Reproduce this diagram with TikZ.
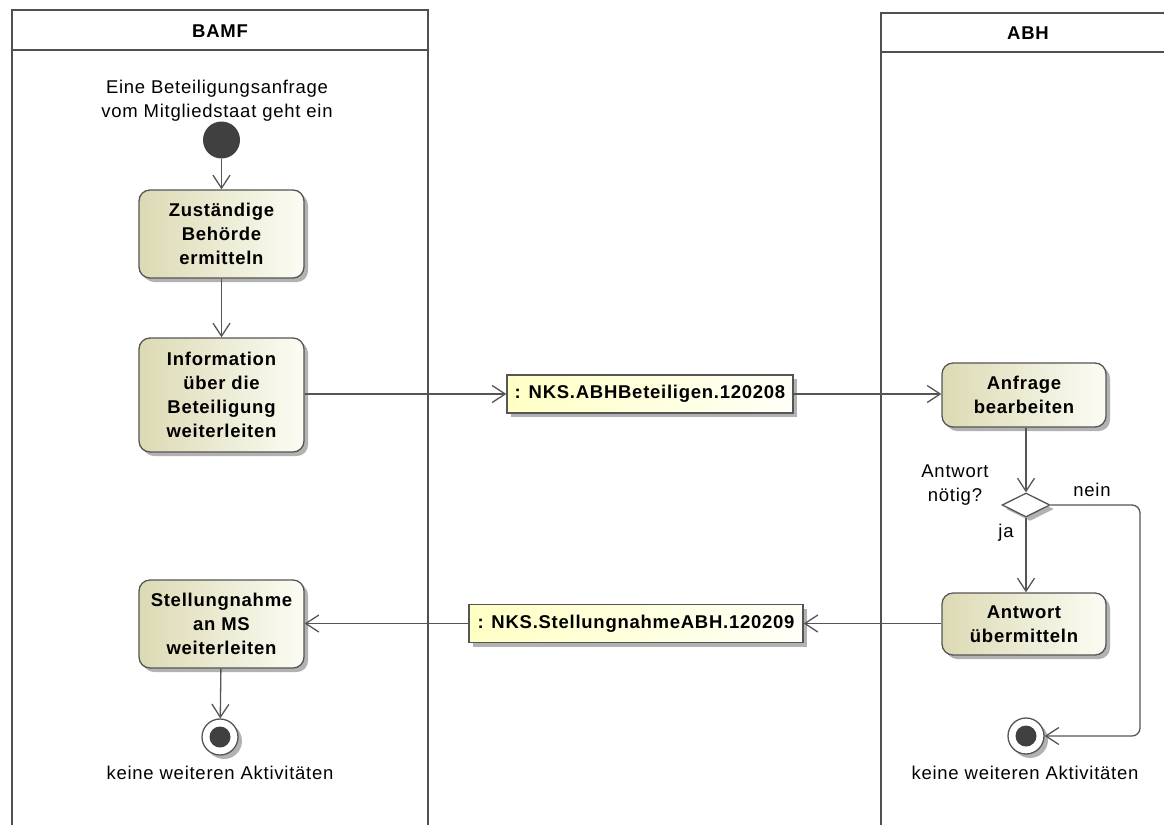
\documentclass[tikz,border=0pt]{standalone}
\usepackage{fontspec}
\setmainfont[LetterSpace=4]{Liberation Sans}
\usetikzlibrary{arrows.meta,shapes.geometric,shadows}
\definecolor{lanec}{RGB}{80,80,80}
\definecolor{edgec}{RGB}{85,85,85}
\definecolor{actL}{RGB}{220,218,180}
\definecolor{actR}{RGB}{252,252,244}
\definecolor{objL}{RGB}{255,255,196}
\definecolor{objR}{RGB}{255,255,248}
\definecolor{dotc}{RGB}{64,64,64}
\begin{document}
\begin{tikzpicture}[x=1pt,y=-1pt,
  lane/.style={draw=lanec,line width=2pt},
  shad/.style={drop shadow={shadow xshift=4pt,shadow yshift=-4pt,fill=black!30,opacity=1}},
  act/.style={draw=edgec,line width=1.3pt,rounded corners=11pt,left color=actL,right color=actR,
    font=\fontsize{18.5}{24}\selectfont\bfseries,align=center,inner sep=0pt,shad},
  obj/.style={draw=edgec,line width=1.3pt,left color=objL,right color=objR,
    font=\fontsize{18.5}{24}\selectfont\bfseries,inner sep=0pt,minimum height=38pt,shad},
  lbl/.style={font=\fontsize{18.5}{24.5}\selectfont,align=center,inner sep=0pt},
  title/.style={font=\fontsize{18.5}{24}\selectfont\bfseries,inner sep=0pt},
  conn/.style={draw=edgec,line width=1.3pt,-{Straight Barb[length=13pt,width=17pt,line width=1.3pt]}},
  startnode/.style={circle,fill=dotc,minimum size=37pt,inner sep=0pt},
  endnode/.style={circle,draw=edgec,line width=1.3pt,fill=white,minimum size=36pt,inner sep=0pt,shad,
    path picture={\fill[dotc] (path picture bounding box.center) circle (10.5pt);}}
]
\useasboundingbox (0,0) rectangle (1164,825);
% lanes
\draw[lane] (12,825) -- (12,10) -- (428,10) -- (428,825);
\draw[lane] (12,50) -- (428,50);
\node[title] (tbamf) at (220,31) {BAMF};
\draw[lane] (881,825) -- (881,13) -- (1166,13);
\draw[lane] (881,52) -- (1166,52);
\node[title] (tabh) at (1028,33) {ABH};

% nodes
\node[lbl] (slbl) at (217,100.5) {Eine Beteiligungsanfrage\\vom Mitgliedstaat geht ein};
\node[startnode] (start) at (221.5,140) {};
\node[act,minimum width=165pt,minimum height=88pt] (a1) at (221.5,234) {Zuständige\\Behörde\\ermitteln};
\node[act,minimum width=165pt,minimum height=114pt] (a2) at (221.5,395) {Information\\über die\\Beteiligung\\weiterleiten};
\node[obj,minimum width=286pt] (o1) at (650,394) {: NKS.ABHBeteiligen.120208};
\node[act,minimum width=164pt,minimum height=64pt] (a3) at (1024,395) {Anfrage\\bearbeiten};
\node[diamond,draw=edgec,line width=1.3pt,fill=white,minimum width=48pt,minimum height=24pt,inner sep=0pt,aspect=2,shad] (dec) at (1026,505) {};
\node[lbl] (qlbl) at (955,485) {Antwort\\nötig?};
\node[lbl] (nein) at (1092,490) {nein};
\node[lbl] (ja) at (1006,533) {ja};
\node[act,minimum width=164pt,minimum height=62pt] (a4) at (1024,624) {Antwort\\übermitteln};
\node[obj,minimum width=334pt] (o2) at (636,623.5) {: NKS.StellungnahmeABH.120209};
\node[act,minimum width=165pt,minimum height=88pt] (a5) at (221.5,624) {Stellungnahme\\an MS\\weiterleiten};
\node[endnode] (e1) at (220,737) {};
\node[lbl] (e1lbl) at (220,773) {keine weiteren Aktivitäten};
\node[endnode] (e2) at (1026,736) {};
\node[lbl] (e2lbl) at (1025,773) {keine weiteren Aktivitäten};
\coordinate (nx) at (1140,0);

% connectors
\draw[conn] (start) -- (a1);
\draw[conn] (a1) -- (a2);
\draw[conn] (a2.east |- o1) -- (o1);
\draw[conn] (o1) -- (a3.west |- o1);
\draw[conn] (a3.south -| dec.north) -- (dec.north);
\draw[conn] (dec.south) -- (a4.north -| dec.south);
\draw[conn] (a4.west |- o2) -- (o2);
\draw[conn] (o2) -- (a5.east |- o2);
\draw[conn] (a5) -- (e1);
\draw[conn,rounded corners=8pt] (dec.east) -- (dec.east -| nx) -- (nx |- e2) -- (e2.east);
\end{tikzpicture}
\end{document}
